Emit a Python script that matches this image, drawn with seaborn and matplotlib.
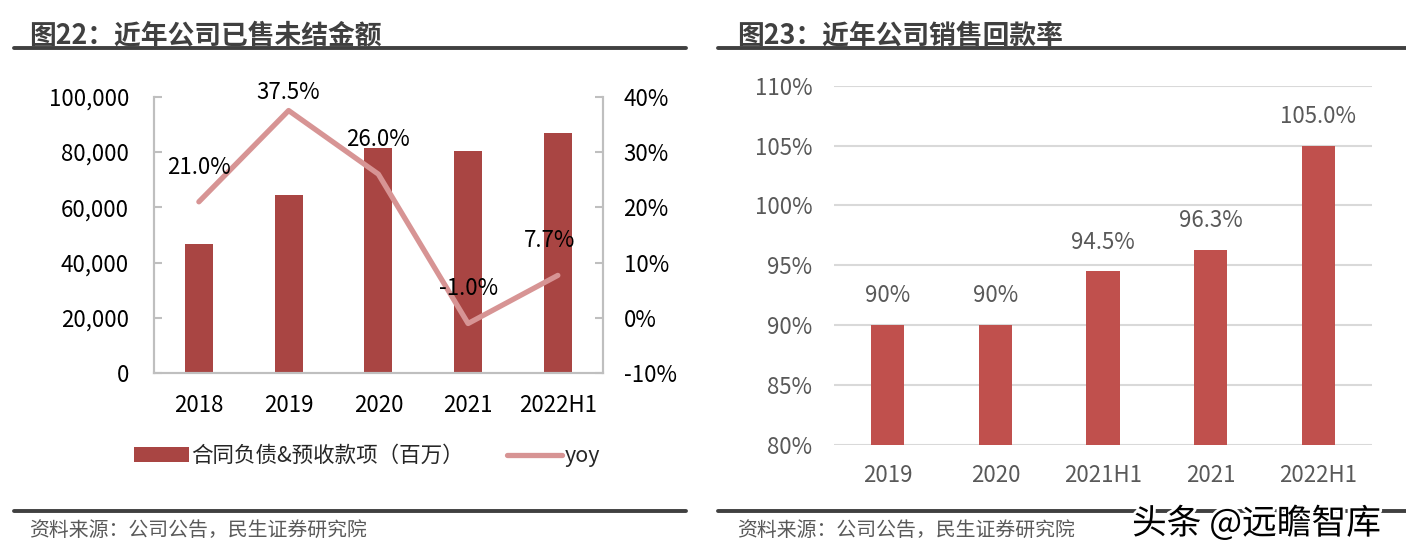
import matplotlib
matplotlib.use("Agg")
import matplotlib.pyplot as plt
import matplotlib.patheffects as pe
import seaborn as sns
import pandas as pd
from matplotlib.lines import Line2D
from matplotlib.patches import Patch
import matplotlib.ticker as mticker

# ---------------- data ----------------
left_years = ["2018", "2019", "2020", "2021", "2022H1"]
contract_liab = [46700, 64400, 81300, 80500, 86700]
yoy = [21.0, 37.5, 26.0, -1.0, 7.7]

right_periods = ["2019", "2020", "2021H1", "2021", "2022H1"]
collection_rate = [90.0, 90.0, 94.5, 96.3, 105.0]
collection_labels = ["90%", "90%", "94.5%", "96.3%", "105.0%"]

left_title = "图22：近年公司已售未结金额"
right_title = "图23：近年公司销售回款率"
source_text = "资料来源：公司公告，民生证券研究院"
bar_legend = "合同负债&预收款项（百万）"
line_legend = "yoy"
watermark = "头条 @远瞻智库"

# ---------------- style ----------------
sns.set_theme(style="white")
plt.rcParams["font.family"] = ["Noto Sans CJK SC", "DejaVu Sans"]

BAR_L = "#A94543"
LINE_L = "#D79494"
BAR_R = "#C0504D"
DARK = "#404040"
GRAY_T = "#595959"
FS = 16

W, H = 1406, 559
fig = plt.figure(figsize=(W / 100, H / 100), dpi=100)

def fx(px):
    return px / W

def fy(py):
    return 1 - py / H

# ---------------- left chart ----------------
axL = fig.add_axes([fx(154), fy(373.3), fx(602.7 - 154), (373.3 - 96.7) / H])
dfL = pd.DataFrame({"year": left_years, "value": contract_liab, "yoy": yoy})
sns.barplot(data=dfL, x="year", y="value", ax=axL, color=BAR_L, width=0.31,
            saturation=1, edgecolor="none")
axL.set_ylim(0, 100000)
axL.set_xlim(-0.5, len(left_years) - 0.5)
axL.yaxis.set_major_locator(mticker.MultipleLocator(20000))
axL.yaxis.set_major_formatter(mticker.FuncFormatter(lambda v, p: f"{int(v):,}"))
axL.set_xlabel("")
axL.set_ylabel("")
for s in ["left", "bottom", "right"]:
    axL.spines[s].set_color("#BFBFBF")
    axL.spines[s].set_linewidth(1.5)
axL.spines["top"].set_visible(False)
axL.tick_params(axis="y", direction="in", length=6, width=1.5, color="#BFBFBF",
                labelsize=FS, labelcolor="black", pad=18)
axL.tick_params(axis="x", length=0, labelsize=FS, labelcolor="black", pad=15)

axR2 = axL.twinx()
sns.lineplot(data=dfL, x="year", y="yoy", ax=axR2, color=LINE_L, linewidth=3.8,
             solid_capstyle="round", sort=False)
axR2.set_ylim(-10, 40)
axR2.yaxis.set_major_locator(mticker.MultipleLocator(10))
axR2.yaxis.set_major_formatter(mticker.FuncFormatter(lambda v, p: f"{int(v)}%"))
axR2.set_ylabel("")
axR2.set_xlabel("")
for s in ["left", "bottom", "right"]:
    axR2.spines[s].set_color("#BFBFBF")
    axR2.spines[s].set_linewidth(1.5)
axR2.spines["top"].set_visible(False)
axR2.tick_params(axis="y", direction="in", length=6, width=1.5, color="#BFBFBF",
                 labelsize=FS, labelcolor="black", pad=15)
axR2.grid(False)
axL.grid(False)

yoy_label_dy = [25, 13, 25, 25, 25]
yoy_label_dx = [0, 0, 0, 0, -6]
for i, v in enumerate(yoy):
    axR2.annotate(f"{v:.1f}%", (i, v), xytext=(yoy_label_dx[i], yoy_label_dy[i]),
                  textcoords="offset points", ha="center", va="center",
                  fontsize=FS, color="black")

handles = [Patch(facecolor=BAR_L, edgecolor="none"),
           Line2D([0], [0], color=LINE_L, linewidth=3.8, solid_capstyle="round")]
fig.legend(handles, [bar_legend, line_legend], loc="center",
           bbox_to_anchor=(fx(367), fy(456)), ncol=2, frameon=False,
           fontsize=15.5, handlelength=2.55, handleheight=0.65, handletextpad=0.12,
           columnspacing=2.0)

# ---------------- right chart ----------------
axR = fig.add_axes([fx(834), fy(444.7), fx(1372 - 834), (444.7 - 85.7) / H])
dfR = pd.DataFrame({"period": right_periods, "rate": collection_rate})
sns.barplot(data=dfR, x="period", y="rate", ax=axR, color=BAR_R, width=0.31,
            saturation=1, edgecolor="none", zorder=3)
axR.set_ylim(80, 110)
axR.set_xlim(-0.5, len(right_periods) - 0.5)
axR.yaxis.set_major_locator(mticker.MultipleLocator(5))
axR.yaxis.set_major_formatter(mticker.FuncFormatter(lambda v, p: f"{int(v)}%"))
axR.set_xlabel("")
axR.set_ylabel("")
axR.grid(axis="y", color="#D9D9D9", linewidth=1.5, zorder=0)
axR.grid(axis="x", visible=False)
axR.set_axisbelow(True)
for s in axR.spines.values():
    s.set_visible(False)
axR.tick_params(axis="y", length=0, labelsize=FS, labelcolor=GRAY_T, pad=15.5)
axR.tick_params(axis="x", length=0, labelsize=FS, labelcolor=GRAY_T, pad=14)
for i, (v, lab) in enumerate(zip(collection_rate, collection_labels)):
    axR.annotate(lab, (i, v), xytext=(0, 21), textcoords="offset points",
                 ha="center", va="center", fontsize=FS, color=GRAY_T)

# ---------------- titles, rules, sources ----------------
fig.text(fx(29), fy(35), left_title, fontsize=19.3, fontweight="bold", color=DARK,
         ha="left", va="center")
fig.text(fx(737), fy(35), right_title, fontsize=19.3, fontweight="bold", color=DARK,
         ha="left", va="center")
for x0, x1 in [(14, 686), (718, 1406)]:
    fig.add_artist(Line2D([fx(x0), fx(x1)], [fy(48), fy(48)], color=DARK, linewidth=2.8))
    fig.add_artist(Line2D([fx(x0), fx(x1)], [fy(511), fy(511)], color=DARK, linewidth=2.8))
fig.text(fx(29), fy(530), source_text, fontsize=14.3, color=GRAY_T, ha="left", va="center")
fig.text(fx(737), fy(530), source_text, fontsize=14.3, color=GRAY_T, ha="left", va="center")
fig.text(fx(1132), fy(524), watermark, fontsize=25, color="black", ha="left", va="center",
         path_effects=[pe.withStroke(linewidth=4, foreground="white")])

fig.savefig("out.png", dpi=100)
